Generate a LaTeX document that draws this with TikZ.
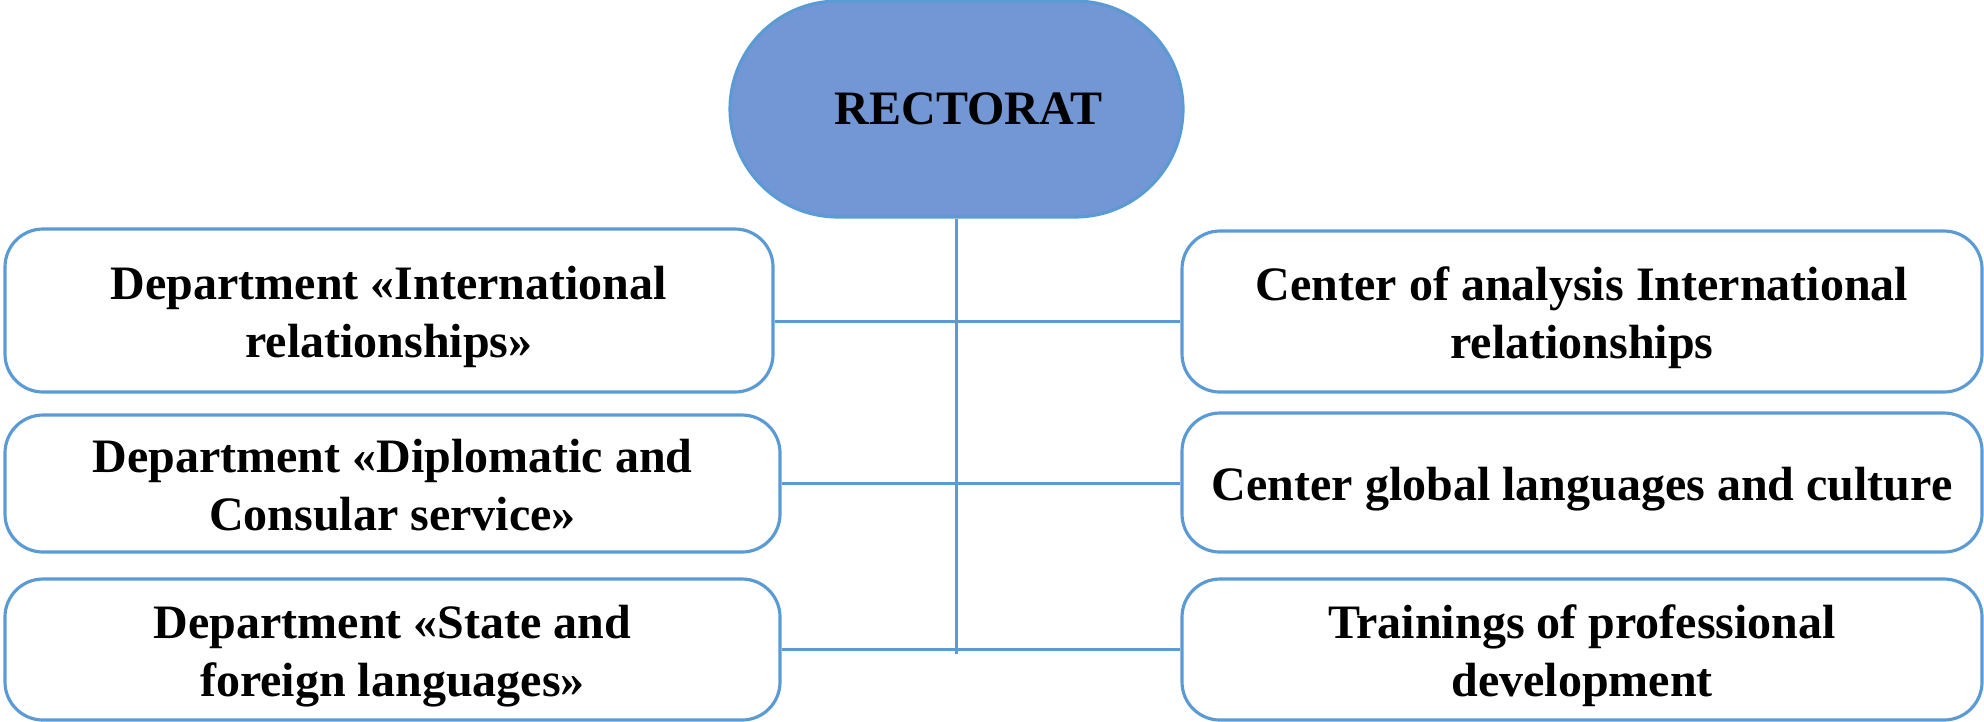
\documentclass[tikz,border=0pt]{standalone}
\usepackage{fontspec}
\setmainfont{Liberation Serif}
\usepackage{tikz}
\usetikzlibrary{shapes}
\usetikzlibrary{calc}
\definecolor{linkblue}{RGB}{91,155,213}
\definecolor{rectorblue}{RGB}{114,151,212}
\newcommand{\lstrut}{\rule[-3.06pt]{0pt}{16.36pt}}
\tikzset{unitbox/.style={draw=linkblue, line width=0.9pt, rounded corners=0.38cm, fill=white, inner sep=0pt, align=center}}
\tikzset{rectorbox/.style={draw=linkblue, fill=rectorblue, line width=0.9pt, rounded corners=1.08cm, minimum width=4.53cm, minimum height=2.16cm}}
\tikzset{link/.style={draw=linkblue, line width=0.9pt}}

\begin{document}
\begin{tikzpicture}[font=\fontsize{13.66}{16.4}\selectfont\bfseries]
\useasboundingbox (0, 0) rectangle (19.84, -7.21);

\node[rectorbox] (rector) at (9.565, -1.09) {\hspace*{0.24cm}RECTORAT};

\node[unitbox, minimum width=7.68cm, minimum height=1.63cm] (depIR) at (3.89, -3.105) {\lstrut Department «International\\\lstrut relationships»};
\node[unitbox, minimum width=7.75cm, minimum height=1.37cm] (depDC) at (3.925, -4.835) {\lstrut Department «Diplomatic and\\\lstrut Consular service»};
\node[unitbox, minimum width=7.75cm, minimum height=1.41cm] (depSF) at (3.925, -6.495) {\lstrut Department «State and\\\lstrut foreign languages»};

\node[unitbox, minimum width=8cm, minimum height=1.61cm] (cenIR) at (15.82, -3.115) {\lstrut Center of analysis International\\\lstrut relationships};
\node[unitbox, minimum width=8cm, minimum height=1.39cm] (cenGL) at (15.82, -4.825) {\lstrut Center global languages and culture};
\node[unitbox, minimum width=8cm, minimum height=1.41cm] (train) at (15.82, -6.495) {\lstrut Trainings of professional\\\lstrut development};

\coordinate (trunk) at (9.565, -6.54);
\draw[link] (rector.south) -- (trunk);

\draw[link] ([yshift=-0.11cm]depIR.east) -- ([yshift=-0.11cm]depIR.east -| cenIR.west);
\draw[link] (depDC.east) -- (depDC.east -| cenGL.west);
\draw[link] (depSF.east) -- (depSF.east -| train.west);

\end{tikzpicture}
\end{document}
